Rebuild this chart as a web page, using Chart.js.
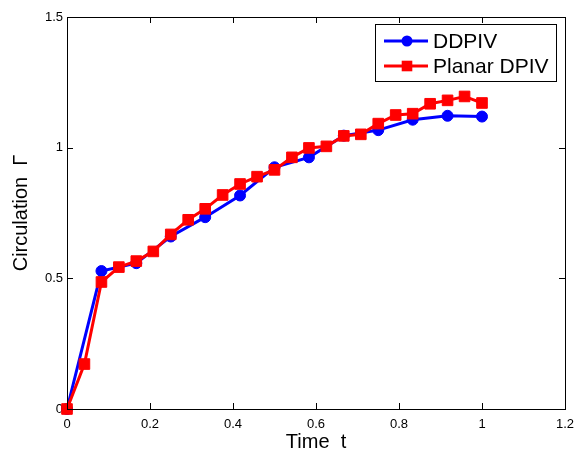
<!DOCTYPE html>
<html>
<head>
<meta charset="utf-8">
<script src="https://cdn.jsdelivr.net/npm/chart.js@4.4.0/dist/chart.umd.min.js"></script>
<style>
  html, body { margin: 0; padding: 0; background: #fff; }
  #wrap { width: 577px; height: 457px; }
</style>
</head>
<body>
<div id="wrap"><canvas id="c" width="577" height="457"></canvas></div>
<script>
// DDPIV, every 1/12 of the stroke
const ddpivTime = [0, 0.083, 0.167, 0.25, 0.333, 0.417, 0.5, 0.583, 0.667, 0.75, 0.833, 0.917, 1.0];
const ddpivGamma = [0, 0.528, 0.558, 0.66, 0.734, 0.817, 0.925, 0.963, 1.046, 1.067, 1.107, 1.122, 1.119];

// planar DPIV, every 1/24
const planarTime = [0, 0.042, 0.083, 0.125, 0.167, 0.208, 0.25, 0.292, 0.333, 0.375, 0.417, 0.458, 0.5,
    0.542, 0.583, 0.625, 0.667, 0.708, 0.75, 0.792, 0.833, 0.875, 0.917, 0.958, 1.0];
const planarGamma = [0, 0.172, 0.486, 0.543, 0.566, 0.603, 0.668, 0.724, 0.766, 0.819, 0.861, 0.889, 0.915,
    0.963, 0.999, 1.005, 1.045, 1.051, 1.092, 1.125, 1.13, 1.168, 1.181, 1.196, 1.171];

const xTicks = [0, 0.2, 0.4, 0.6, 0.8, 1, 1.2];
const yTicks = [0, 0.5, 1, 1.5];

const FONT = 'Liberation Sans, Arial, Helvetica, sans-serif';

function toPoints(xs, ys)
{
    return xs.map((x, i) => ({x: x, y: ys[i]}));
}

// matlab style box with inward ticks + legend
const boxPlugin = {
    id: 'box',
    afterDraw(chart)
    {
        const ctx = chart.ctx;
        const a = chart.chartArea;
        const xs = chart.scales.x, ys = chart.scales.y;
        const tl = 6;

        ctx.save();
        ctx.strokeStyle = '#000';
        ctx.lineWidth = 1;
        ctx.strokeRect(a.left + 0.5, a.top + 0.5, a.right - a.left, a.bottom - a.top);

        ctx.beginPath();
        xTicks.forEach(v => {
            const px = Math.round(xs.getPixelForValue(v)) + 0.5;
            ctx.moveTo(px, a.bottom); ctx.lineTo(px, a.bottom - tl);
            ctx.moveTo(px, a.top); ctx.lineTo(px, a.top + tl);
        });
        yTicks.forEach(v => {
            const py = Math.round(ys.getPixelForValue(v)) + 0.5;
            ctx.moveTo(a.left, py); ctx.lineTo(a.left + tl, py);
            ctx.moveTo(a.right, py); ctx.lineTo(a.right - tl, py);
        });
        ctx.stroke();

        // legend
        const w = 181, h = 57;
        const lx = a.right - 9 - w, ly = a.top + 7;
        ctx.fillStyle = '#fff';
        ctx.fillRect(lx, ly, w, h);
        ctx.strokeRect(lx + 0.5, ly + 0.5, w, h);

        ctx.font = '21px ' + FONT;
        ctx.textBaseline = 'middle';
        chart.data.datasets.slice().reverse().forEach((ds, i) => {
            const cy = ly + 17 + i * 25;
            ctx.strokeStyle = ds.borderColor;
            ctx.lineWidth = 3;
            ctx.beginPath();
            ctx.moveTo(lx + 9, cy);
            ctx.lineTo(lx + 53, cy);
            ctx.stroke();
            ctx.fillStyle = ds.borderColor;
            Chart.helpers.drawPoint(ctx, {pointStyle: ds.pointStyle, radius: ds.pointRadius, borderWidth: 0}, lx + 32, cy);
            ctx.fillStyle = '#000';
            ctx.fillText(ds.label, lx + 58, cy + 1);
        });
        ctx.restore();
    }
};

const config = {
    type: 'line',
    data: {
        datasets: [
            {
                label: 'Planar DPIV',
                data: toPoints(planarTime, planarGamma),
                borderColor: '#ff0000',
                backgroundColor: '#ff0000',
                borderWidth: 3,
                pointStyle: 'rect',
                pointRadius: 7.5,
                pointBorderWidth: 1,
                tension: 0,
                clip: false
            },
            {
                label: 'DDPIV',
                data: toPoints(ddpivTime, ddpivGamma),
                borderColor: '#0000ff',
                backgroundColor: '#0000ff',
                borderWidth: 3,
                pointStyle: 'circle',
                pointRadius: 5.5,
                pointBorderWidth: 1,
                tension: 0,
                clip: false
            }
        ]
    },
    options: {
        responsive: false,
        animation: false,
        layout: { padding: { top: 17, right: 12, left: 0, bottom: 0 } },
        plugins: { legend: { display: false }, tooltip: { enabled: false } },
        scales: {
            x: {
                type: 'linear',
                min: 0, max: 1.2,
                afterBuildTicks: s => { s.ticks = xTicks.map(v => ({value: v})); },
                afterFit: s => { s.height = 48; s.paddingLeft = 0; s.paddingRight = 0; },
                grid: { display: false, drawTicks: false },
                border: { display: false },
                ticks: { color: '#000', padding: 8, font: { family: FONT, size: 13 }, maxRotation: 0,
                    callback: v => String(v) },
                title: { display: true, text: 'Time  t', color: '#000',
                    font: { family: FONT, size: 20, lineHeight: 1.2 }, padding: { top: 0, bottom: 3 } }
            },
            y: {
                min: 0, max: 1.5,
                afterBuildTicks: s => { s.ticks = yTicks.map(v => ({value: v})); },
                afterFit: s => { s.width = 67; s.paddingTop = 0; s.paddingBottom = 0; },
                grid: { display: false, drawTicks: false },
                border: { display: false },
                ticks: { color: '#000', padding: 4, font: { family: FONT, size: 13 },
                    callback: v => String(v) },
                title: { display: true, text: 'Circulation  Γ', color: '#000',
                    font: { family: FONT, size: 20, lineHeight: 1.2 }, padding: { top: 9, bottom: 0 } }
            }
        }
    },
    plugins: [boxPlugin]
};

const chart = new Chart(document.getElementById('c'), config);
</script>
</body>
</html>
